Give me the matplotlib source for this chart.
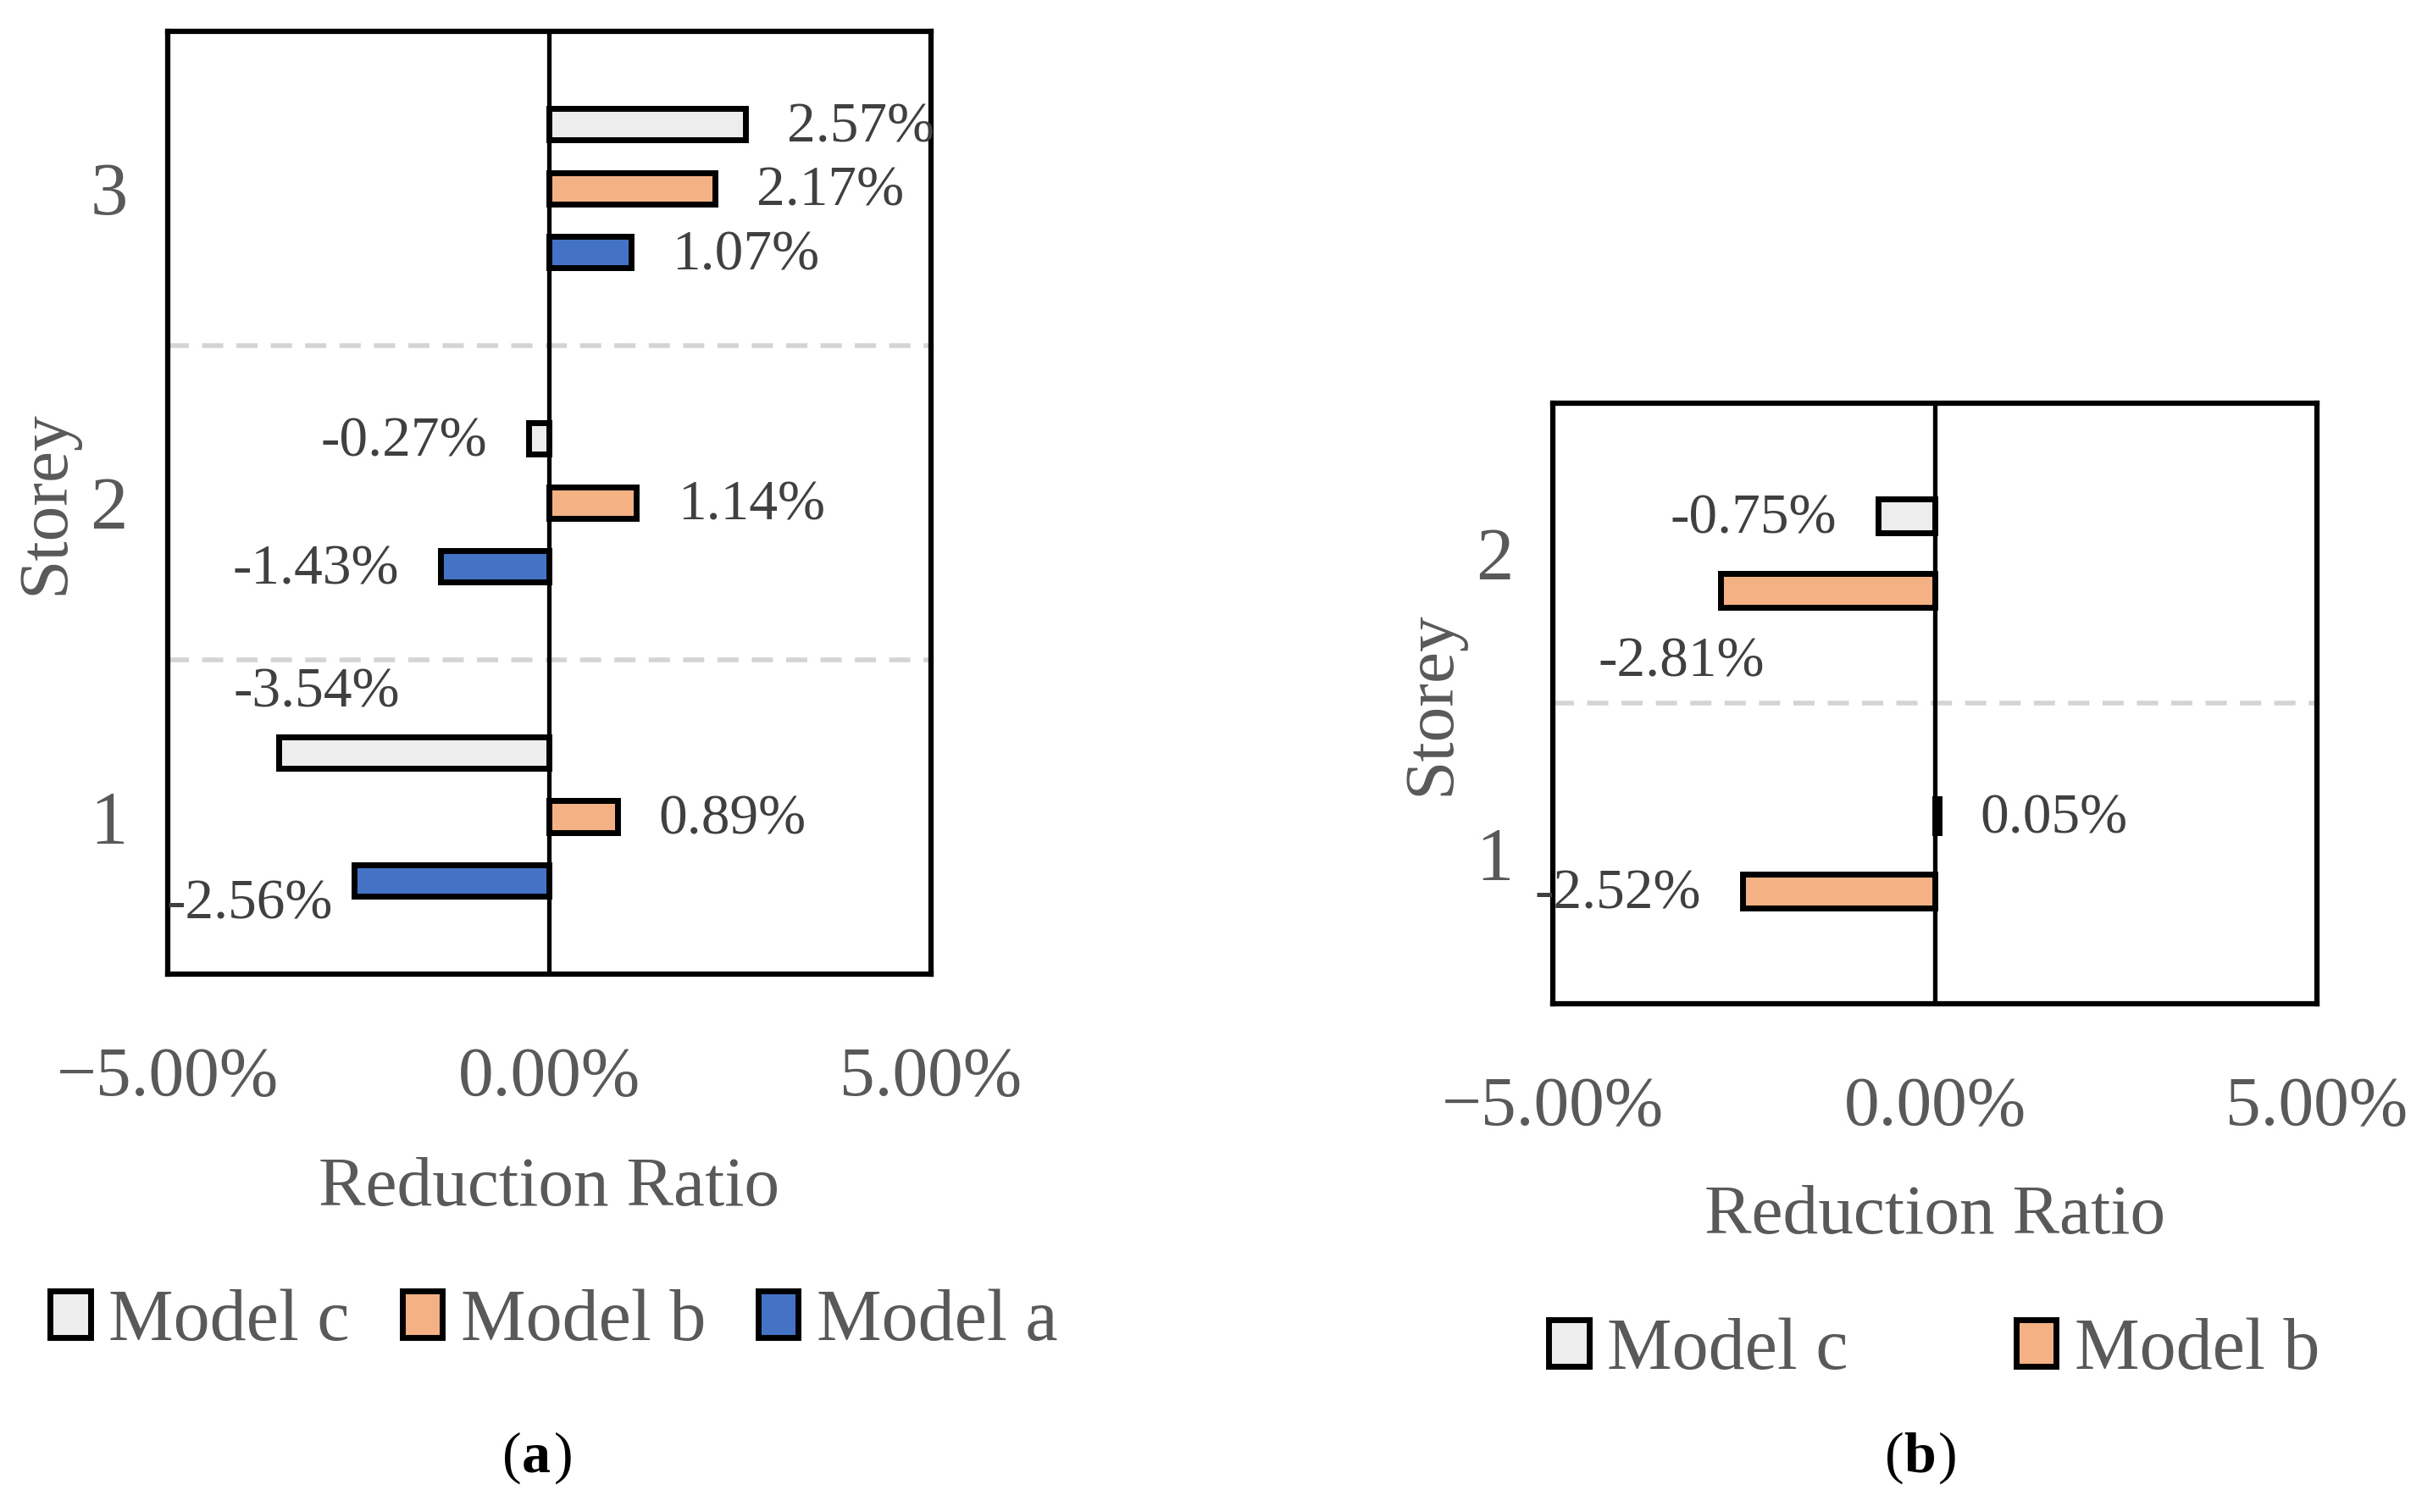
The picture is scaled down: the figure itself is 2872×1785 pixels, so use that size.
import numpy as np
import matplotlib
matplotlib.use("Agg")
import matplotlib.pyplot as plt
from matplotlib.ticker import FuncFormatter
from matplotlib.patches import Patch

plt.rcParams['font.family'] = ['Liberation Serif', 'DejaVu Serif']

# panel (a)
storeys_a = [1, 2, 3]
model_c_a = [-3.54, -0.27, 2.57]
model_b_a = [0.89, 1.14, 2.17]
model_a_a = [-2.56, -1.43, 1.07]

# panel (b)
storeys_b = [1, 2]
model_c_b = [0.05, -0.75]
model_b_b = [-2.52, -2.81]

C_COLOR = '#EDEDED'
B_COLOR = '#F4B183'
A_COLOR = '#4472C4'
GRAY = '#595959'
LABEL_GRAY = '#404040'
EDGE_LW = 5.0

fig = plt.figure(figsize=(28.72, 17.85), dpi=100)
ax1 = fig.add_axes([0.0689, 0.356, 0.3138, 0.6235])
ax2 = fig.add_axes([0.6384, 0.3364, 0.3138, 0.3969])


def pct(x, pos):
    return f"{x:.2f}%".replace('-', '\u2212')


def label_bars(ax, values, ys, special):
    for i, (v, y) in enumerate(zip(values, ys)):
        if i in special:
            dx, dy, ha = special[i]
        elif v >= 0:
            dx, dy, ha = 35, -3, 'left'
        else:
            dx, dy, ha = -35, -3, 'right'
        ax.annotate(f"{v:.2f}%", xy=(v, y), xytext=(dx, dy), textcoords='offset points',
                    ha=ha, va='center', fontsize=48.5, color=LABEL_GRAY)


def style_axis(ax, storeys, label_y, colspacing, handles, leg_x):
    ax.set_xlim(-5, 5)
    ax.set_ylim(0.5, storeys[-1] + 0.5)
    ax.set_xticks([-5, 0, 5])
    ax.xaxis.set_major_formatter(FuncFormatter(pct))
    ax.set_yticks(storeys)
    ax.tick_params(axis='x', length=0, pad=62, labelsize=60, labelcolor=GRAY)
    ax.tick_params(axis='y', length=0, pad=34, labelsize=64, labelcolor=GRAY)
    for s in ax.spines.values():
        s.set_linewidth(4.5)
        s.set_color('black')
    ax.axvline(0, color='black', linewidth=3.8, zorder=1)
    for g in np.arange(1.5, storeys[-1], 1.0):
        ax.axhline(g, color='#D4D4D4', linewidth=4, linestyle=(0, (4.5, 2.8)), zorder=0)
    ax.set_xlabel('Reduction Ratio', fontsize=60, color=GRAY)
    ax.set_ylabel('Storey', fontsize=60, color=GRAY)
    ax.xaxis.set_label_coords(0.5, label_y[0])
    ax.xaxis.label.set_va('center')
    ax.yaxis.set_label_coords(-0.159, 0.5)
    ax.yaxis.label.set_va('center')
    leg = ax.legend(handles=handles, loc='center', bbox_to_anchor=(leg_x, label_y[1]),
                    ncol=len(handles), frameon=False, fontsize=62,
                    handlelength=0.55, handleheight=0.6, handletextpad=0.25,
                    columnspacing=colspacing, borderaxespad=0)
    for t in leg.get_texts():
        t.set_color(GRAY)


bar_kw = dict(edgecolor='black', linewidth=EDGE_LW, zorder=3)

# (a)
y = np.array(storeys_a, dtype=float)
off = 0.204
h = 0.1
ax1.barh(y + off, model_c_a, height=h, color=C_COLOR, **bar_kw)
ax1.barh(y, model_b_a, height=h, color=B_COLOR, **bar_kw)
ax1.barh(y - off, model_a_a, height=h, color=A_COLOR, **bar_kw)
label_bars(ax1, model_c_a, y + off, {0: (32, 51, 'center')})
label_bars(ax1, model_b_a, y, {})
label_bars(ax1, model_a_a, y - off, {0: (-18, -20, 'right')})
handles_a = [Patch(facecolor=C_COLOR, edgecolor='black', linewidth=EDGE_LW, label='Model c'),
             Patch(facecolor=B_COLOR, edgecolor='black', linewidth=EDGE_LW, label='Model b'),
             Patch(facecolor=A_COLOR, edgecolor='black', linewidth=EDGE_LW, label='Model a')]
style_axis(ax1, storeys_a, (-0.228, -0.370), 0.72, handles_a, 0.506)

# (b)
y = np.array(storeys_b, dtype=float)
off = 0.125
h = 0.113
ax2.barh(y + off, model_c_b, height=h, color=C_COLOR, **bar_kw)
ax2.barh(y - off, model_b_b, height=h, color=B_COLOR, **bar_kw)
label_bars(ax2, model_c_b, y + off, {})
label_bars(ax2, model_b_b, y - off, {1: (-33, -61, 'center')})
handles_b = handles_a[:2]
style_axis(ax2, storeys_b, (-0.355, -0.580), 2.3, handles_b, 0.499)

fig.text(0.2145, 0.036, '(', fontsize=49, ha='right', va='center')
fig.text(0.2145, 0.036, 'a', fontsize=49, fontweight='bold', ha='left', va='center')
fig.text(0.2275, 0.036, ')', fontsize=49, ha='left', va='center')
fig.text(0.7825, 0.036, '(', fontsize=49, ha='right', va='center')
fig.text(0.7825, 0.036, 'b', fontsize=49, fontweight='bold', ha='left', va='center')
fig.text(0.7965, 0.036, ')', fontsize=49, ha='left', va='center')

fig.savefig('out.png', dpi=100)
